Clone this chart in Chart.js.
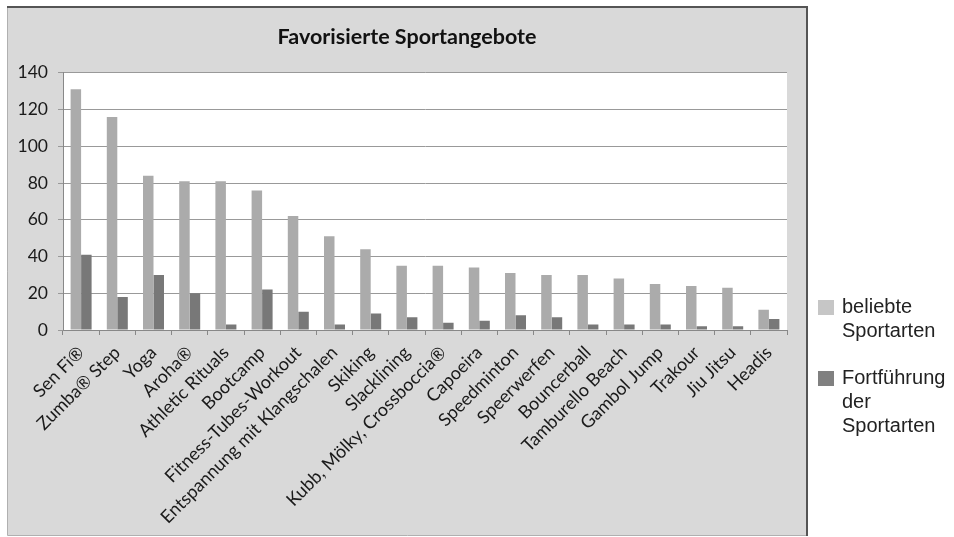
<!DOCTYPE html>
<html>
<head>
<meta charset="utf-8">
<script src="https://cdn.jsdelivr.net/npm/chart.js@4"></script>
<style>
  html, body { margin: 0; padding: 0; background: #fff; }
</style>
</head>
<body>
<canvas id="myChart" width="954" height="537"></canvas>
<script>
const categories = ["Sen Fi®", "Zumba® Step", "Yoga", "Aroha®", "Athletic Rituals", "Bootcamp",
    "Fitness-Tubes-Workout", "Entspannung mit Klangschalen", "Skiking", "Slacklining",
    "Kubb, Mölky, Crossboccia®", "Capoeira", "Speedminton", "Speerwerfen", "Bouncerball",
    "Tamburello Beach", "Gambol Jump", "Trakour", "Jiu Jitsu", "Headis"];
const beliebte = [131, 116, 84, 81, 81, 76, 62, 51, 44, 35, 35, 34, 31, 30, 30, 28, 25, 24, 23, 11];
const fortfuehrung = [41, 18, 30, 20, 3, 22, 10, 3, 9, 7, 4, 5, 8, 7, 3, 3, 3, 2, 2, 6];
const seriesNames = ["beliebte Sportarten", "Fortführung der Sportarten"];
const yMin = 0, yMax = 140, yStep = 20;

// grauer Rahmen + weiße Plotfläche
const boxPlugin = {
    id: 'box',
    beforeDraw(chart) {
        const c = chart.ctx, a = chart.chartArea;
        c.save();
        c.fillStyle = '#ffffff';
        c.fillRect(0, 0, chart.width, chart.height);
        c.fillStyle = '#d9d9d9';
        c.fillRect(7, 7, 800, 528);
        c.strokeStyle = '#b0b0b0';
        c.lineWidth = 1;
        c.beginPath();
        c.moveTo(7.5, 7); c.lineTo(7.5, 535.5); c.lineTo(807, 535.5);
        c.stroke();
        c.strokeStyle = '#555555';
        c.lineWidth = 2;
        c.beginPath();
        c.moveTo(7, 7); c.lineTo(807, 7); c.lineTo(807, 536);
        c.stroke();
        c.fillStyle = '#ffffff';
        c.fillRect(a.left, a.top, a.right - a.left, a.bottom - a.top);
        c.restore();
    }
};

// Legende rechts außerhalb, Wörter untereinander
const legendPlugin = {
    id: 'sideLegend',
    afterDraw(chart) {
        const c = chart.ctx;
        c.save();
        c.font = '20px "Liberation Sans", Arial, sans-serif';
        c.textBaseline = 'middle';
        let y = 307;
        chart.data.datasets.forEach(function(ds) {
            c.fillStyle = ds.legendColor;
            c.fillRect(818, y - 7, 16, 15);
            c.fillStyle = '#222';
            ds.label.split(' ').forEach(function(word) {
                c.fillText(word, 842, y);
                y += 24;
            });
            y += 23;
        });
        c.restore();
    }
};

const ctx = document.getElementById("myChart").getContext("2d");

new Chart(ctx, {
    type: 'bar',
    data: {
        labels: categories,
        datasets: [{
                label: seriesNames[0],
                data: beliebte,
                backgroundColor: '#ababab',
                legendColor: '#c6c6c6'
            },
            {
                label: seriesNames[1],
                data: fortfuehrung,
                backgroundColor: '#787878',
                legendColor: '#808080'
            }
        ]
    },
    plugins: [boxPlugin, legendPlugin],
    options: {
        responsive: false,
        animation: false,
        categoryPercentage: 0.58,
        barPercentage: 1,
        layout: {
            padding: { left: 7, right: 147, top: 7, bottom: 2 }
        },
        plugins: {
            legend: { display: false },
            tooltip: { enabled: false },
            title: {
                display: true,
                text: 'Favorisierte Sportangebote',
                color: '#111',
                font: { family: 'Lato', size: 21.5, weight: 'bold', lineHeight: 1.2 },
                padding: { top: 17, bottom: 23 }
            }
        },
        scales: {
            y: {
                min: yMin,
                max: yMax,
                ticks: {
                    stepSize: yStep,
                    color: '#1a1a1a',
                    padding: 10,
                    font: { family: 'Lato', size: 17.5 }
                },
                grid: { color: '#999', tickLength: 5 },
                border: { color: '#888' },
                afterFit: function(scale) { scale.width = 56; }
            },
            pad: {
                type: 'linear',
                position: 'right',
                grid: { display: false },
                ticks: { display: false },
                border: { display: false },
                afterFit: function(scale) { scale.width = 20; }
            },
            x: {
                ticks: {
                    color: '#1a1a1a',
                    minRotation: 45,
                    maxRotation: 45,
                    autoSkip: false,
                    padding: 7,
                    font: { family: 'Lato', size: 18 }
                },
                grid: { drawOnChartArea: false, color: '#888', tickLength: 5 },
                border: { color: '#888' },
                afterFit: function(scale) { scale.height = 205; }
            }
        }
    }
});
</script>
</body>
</html>
